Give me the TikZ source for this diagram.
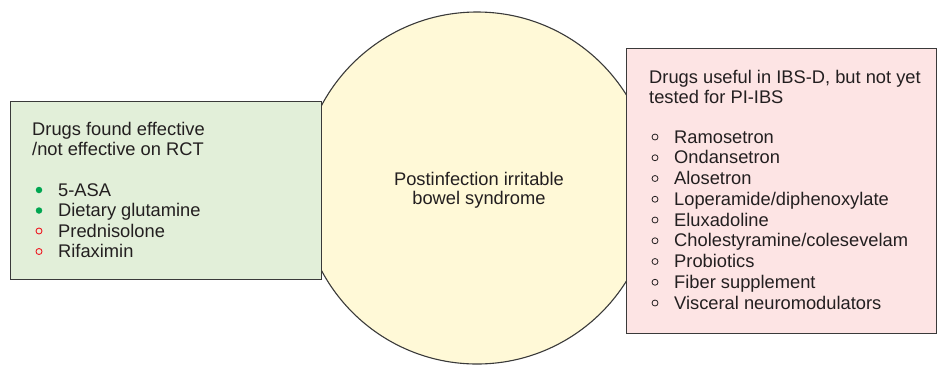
\documentclass[tikz,border=0pt]{standalone}
\usepackage{fontspec}
\setmainfont{Liberation Sans}
\definecolor{yellowc}{HTML}{FFF9D7}
\definecolor{greenc}{HTML}{E2EFD9}
\definecolor{pinkc}{HTML}{FDE4E4}
\definecolor{linec}{HTML}{3A3A3A}
\definecolor{textc}{HTML}{231F20}
\definecolor{dotgreen}{HTML}{00A651}
\definecolor{dotred}{HTML}{ED1C24}
\begin{document}
\begin{tikzpicture}[x=1pt,y=-1pt,
  box/.style={draw=linec, line width=1.1pt, inner sep=0pt, anchor=north west},
  txt/.style={font=\fontsize{18.3}{20.5}\selectfont, text=textc, inner sep=0pt, anchor=base west},
  ctxt/.style={font=\fontsize{18.3}{20.5}\selectfont, text=textc, inner sep=0pt, anchor=base},
  fdot/.style={circle, fill=dotgreen, inner sep=0pt, minimum size=6.5pt},
  rdot/.style={circle, draw=dotred, line width=0.9pt, inner sep=0pt, minimum size=6pt},
  kdot/.style={circle, draw=textc, line width=0.8pt, inner sep=0pt, minimum size=6pt}]
\useasboundingbox (0,0) rectangle (938,365);
\node[circle, draw=linec, line width=1.1pt, fill=yellowc, minimum size=352pt, inner sep=0pt] (c) at (477,188) {};
\node[box, fill=greenc, minimum width=311pt, minimum height=178pt] (L) at (10,101) {};
\node[box, fill=pinkc, minimum width=310pt, minimum height=285pt] (R) at (626,48) {};
% centre text
\node[ctxt] (c1) at (479,185) {Postinfection irritable};
\node[ctxt] (c2) at (479,204.5) {bowel syndrome};
% left box
\node[txt] (l1) at (32,135) {Drugs found effective};
\node[txt] (l2) at (32,155.5) {/not effective on RCT};
\node[fdot] (b1) at (39,190) {};
\node[txt] (i1) at (58,196) {5-ASA};
\node[fdot] (b2) at (39,210.5) {};
\node[txt] (i2) at (58,216.5) {Dietary glutamine};
\node[rdot] (b3) at (39,231) {};
\node[txt] (i3) at (58,237) {Prednisolone};
\node[rdot] (b4) at (39,251.5) {};
\node[txt] (i4) at (58,257.5) {Rifaximin};
% right box
\node[txt] (r1) at (649,83) {Drugs useful in IBS-D, but not yet};
\node[txt] (r2) at (649,103.5) {tested for PI-IBS};
\foreach \t [count=\k] in {Ramosetron,Ondansetron,Alosetron,Loperamide/diphenoxylate,Eluxadoline,Cholestyramine/colesevelam,Probiotics,Fiber supplement,Visceral neuromodulators}{
  \node[kdot] (rb\k) at (655,{137+20.75*(\k-1)}) {};
  \node[txt] (ri\k) at (674,{143+20.75*(\k-1)}) {\t};
}
\end{tikzpicture}
\end{document}
